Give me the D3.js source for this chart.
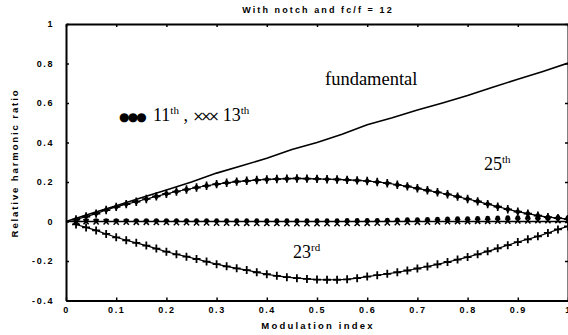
<!DOCTYPE html>
<html>
<head>
<meta charset="utf-8">
<title>Relative harmonic ratio</title>
<script src="https://d3js.org/d3.v7.min.js"></script>
<style>
  html, body { margin: 0; padding: 0; background: #fff; }
  svg { display: block; }
  .tick text { font-family: "Liberation Sans", Arial, sans-serif; font-weight: bold; font-size: 9px; letter-spacing: 1.6px; }
  .lbl { font-family: "Liberation Sans", Arial, sans-serif; font-weight: bold; }
  .ann { font-family: "Liberation Serif", "Times New Roman", serif; }
</style>
</head>
<body>
<svg id="chart" width="568" height="335"></svg>
<script>

// modulation index of the marker points
var modIndex = [0.02,0.04,0.06,0.08,0.10,0.12,0.14,0.16,0.18,0.20,
                0.22,0.24,0.26,0.28,0.30,0.32,0.34,0.36,0.38,0.40,
                0.42,0.44,0.46,0.48,0.50,0.52,0.54,0.56,0.58,0.60,
                0.62,0.64,0.66,0.68,0.70,0.72,0.74,0.76,0.78,0.80,
                0.82,0.84,0.86,0.88,0.90,0.92,0.94,0.96,0.98,1.00]

var h25 = [0.010,0.025,0.040,0.058,0.074,0.088,0.100,0.114,0.127,0.140,
           0.152,0.162,0.172,0.181,0.189,0.196,0.202,0.206,0.210,0.213,
           0.215,0.217,0.218,0.217,0.216,0.214,0.213,0.211,0.208,0.205,
           0.200,0.194,0.186,0.178,0.168,0.158,0.148,0.138,0.126,0.114,
           0.102,0.088,0.075,0.062,0.050,0.040,0.030,0.022,0.017,0.012]

var h23 = [-0.015,-0.030,-0.045,-0.063,-0.080,-0.095,-0.108,-0.122,-0.137,-0.153,
           -0.166,-0.178,-0.190,-0.203,-0.216,-0.227,-0.237,-0.246,-0.257,-0.267,
           -0.275,-0.282,-0.287,-0.291,-0.294,-0.295,-0.295,-0.293,-0.287,-0.279,
           -0.272,-0.265,-0.257,-0.248,-0.238,-0.228,-0.217,-0.205,-0.193,-0.180,
           -0.166,-0.151,-0.136,-0.120,-0.104,-0.090,-0.075,-0.058,-0.040,-0.025]

var h11 = [0.004,0.004,0.004,0.004,0.004,0.004,0.004,0.004,0.004,0.004,
           0.004,0.004,0.004,0.004,0.004,0.004,0.004,0.004,0.004,0.004,
           0.004,0.004,0.004,0.004,0.004,0.004,0.004,0.005,0.005,0.006,
           0.006,0.007,0.008,0.009,0.010,0.011,0.012,0.013,0.014,0.015,
           0.016,0.017,0.018,0.019,0.020,0.021,0.021,0.021,0.021,0.020]

var h13 = [0.000,-0.001,-0.002,-0.002,-0.003,-0.003,-0.004,-0.004,-0.005,-0.005,
           -0.006,-0.006,-0.007,-0.007,-0.008,-0.008,-0.009,-0.009,-0.010,-0.010,
           -0.010,-0.011,-0.011,-0.011,-0.011,-0.011,-0.011,-0.010,-0.010,-0.009,
           -0.008,-0.007,-0.006,-0.005,-0.004,-0.003,-0.002,-0.001,0.000,0.000,
           0.001,0.001,0.002,0.002,0.003,0.003,0.004,0.004,0.005,0.005]

var fundX = [0,0.05,0.10,0.15,0.20,0.25,0.30,0.35,0.40,0.45,0.50,
             0.55,0.60,0.65,0.70,0.75,0.80,0.85,0.90,0.95,1.00]
var fundY = [0,0.040,0.080,0.120,0.160,0.200,0.245,0.282,0.320,0.365,0.400,
             0.442,0.490,0.525,0.565,0.600,0.638,0.680,0.720,0.760,0.802]

var xTicks = [0,0.1,0.2,0.3,0.4,0.5,0.6,0.7,0.8,0.9,1]
var xTickLabels = ["0","0.1","0.2","0.3","0.4","0.5","0.6","0.7","0.8","0.9","1"]
var yTicks = [-0.4,-0.2,0,0.2,0.4,0.6,0.8,1]
var yTickLabels = ["-0.4","-0.2","0","0.2","0.4","0.6","0.8","1"]

var svg = d3.select("#chart")

var x = d3.scaleLinear().domain([0, 1]).range([66, 568])
var y = d3.scaleLinear().domain([-0.4, 1]).range([300.5, 24])

// axes, ticks pointing inward
svg.append("g").attr("transform", "translate(0," + y(-0.4) + ")")
    .call(d3.axisBottom(x).tickValues(xTicks).tickFormat(function(d, i) { return xTickLabels[i] })
        .tickSizeInner(-3).tickSizeOuter(0).tickPadding(6))
svg.append("g").attr("transform", "translate(0," + y(1) + ")")
    .call(d3.axisTop(x).tickValues(xTicks).tickFormat("").tickSizeInner(-3).tickSizeOuter(0))
svg.append("g").attr("transform", "translate(" + x(0) + ",0)")
    .call(d3.axisLeft(y).tickValues(yTicks).tickFormat(function(d, i) { return yTickLabels[i] })
        .tickSizeInner(-3).tickSizeOuter(0).tickPadding(12))
svg.append("g").attr("transform", "translate(" + x(1) + ",0)")
    .call(d3.axisRight(y).tickValues(yTicks).tickFormat("").tickSizeInner(-3).tickSizeOuter(0))

svg.selectAll(".domain").attr("stroke", "#000").attr("stroke-width", 2)
svg.selectAll(".tick line").attr("stroke", "#000").attr("stroke-width", 1.5)
svg.selectAll(".tick text").attr("fill", "#000")

// zero line
svg.append("line")
    .attr("x1", x(0)).attr("x2", x(1))
    .attr("y1", y(0)).attr("y2", y(0))
    .attr("stroke", "#000").attr("stroke-width", 1.6)

// fundamental
var fund = fundX.map(function(d, i) { return [d, fundY[i]] })
svg.append("path")
    .datum(fund)
    .attr("fill", "none").attr("stroke", "#000").attr("stroke-width", 1.6)
    .attr("d", d3.line().x(function(d) { return x(d[0]) }).y(function(d) { return y(d[1]) }))

function pts(vals) {
    return modIndex.map(function(m, i) { return [m, vals[i]] })
}
var line = d3.line().x(function(d) { return x(d[0]) }).y(function(d) { return y(d[1]) })

// 25th and 23rd connecting lines
svg.append("path").datum(pts(h25)).attr("fill", "none").attr("stroke", "#000").attr("stroke-width", 1.2).attr("d", line)
svg.append("path").datum(pts(h23)).attr("fill", "none").attr("stroke", "#000").attr("stroke-width", 1.2).attr("d", line)

// 11th : dots
svg.selectAll(".h11").data(pts(h11)).enter().append("circle")
    .attr("class", "h11")
    .attr("cx", function(d) { return x(d[0]) })
    .attr("cy", function(d) { return y(d[1]) })
    .attr("r", 2.4).attr("fill", "#000")

// 13th : crosses
svg.selectAll(".h13").data(pts(h13)).enter().append("path")
    .attr("class", "h13")
    .attr("transform", function(d) { return "translate(" + x(d[0]) + "," + y(d[1]) + ")" })
    .attr("d", "M-2.6,-2.6L2.6,2.6M-2.6,2.6L2.6,-2.6")
    .attr("stroke", "#000").attr("stroke-width", 1.5)

// 23rd : plus
svg.selectAll(".h23").data(pts(h23)).enter().append("path")
    .attr("class", "h23")
    .attr("transform", function(d) { return "translate(" + x(d[0]) + "," + y(d[1]) + ")" })
    .attr("d", "M-4,0L4,0M0,-4L0,4")
    .attr("stroke", "#000").attr("stroke-width", 1.8)

// 25th : plus with diamond
var g25 = svg.selectAll(".h25").data(pts(h25)).enter().append("g")
    .attr("class", "h25")
    .attr("transform", function(d) { return "translate(" + x(d[0]) + "," + y(d[1]) + ")" })
g25.append("path").attr("d", "M-4.2,0L4.2,0M0,-4.2L0,4.2").attr("stroke", "#000").attr("stroke-width", 1.7)
g25.append("path").attr("d", "M0,-3.5L2.9,0L0,3.5L-2.9,0Z").attr("fill", "#000")

// labels
svg.append("text").attr("class", "lbl")
    .attr("x", 318).attr("y", 13).attr("text-anchor", "middle")
    .style("font-size", "9px").style("letter-spacing", "2.1px")
    .text("With notch and fc/f = 12")
svg.append("text").attr("class", "lbl")
    .attr("x", 318).attr("y", 329).attr("text-anchor", "middle")
    .style("font-size", "9.5px").style("letter-spacing", "2.2px")
    .text("Modulation index")
svg.append("text").attr("class", "lbl")
    .attr("transform", "translate(18,163) rotate(-90)").attr("text-anchor", "middle")
    .style("font-size", "9.5px").style("letter-spacing", "1.9px")
    .text("Relative harmonic ratio")

// annotations
svg.append("text").attr("class", "ann").attr("x", 325).attr("y", 85)
    .style("font-size", "18.5px").text("fundamental")

var t25 = svg.append("text").attr("class", "ann").attr("x", 484).attr("y", 170).style("font-size", "18px")
t25.append("tspan").text("25")
t25.append("tspan").attr("dy", -7).style("font-size", "11px").text("th")

var t23 = svg.append("text").attr("class", "ann").attr("x", 293).attr("y", 258).style("font-size", "18px")
t23.append("tspan").text("23")
t23.append("tspan").attr("dy", -7).style("font-size", "11px").text("rd")

var tl = svg.append("text").attr("class", "ann").attr("x", 119).attr("y", 121).style("font-size", "18px")
tl.append("tspan").style("font-family", "DejaVu Sans").style("font-size", "12px").style("letter-spacing", "-1.8px").text("●●●")
tl.append("tspan").attr("dx", 8).text("11")
tl.append("tspan").attr("dy", -7).style("font-size", "11px").text("th")
tl.append("tspan").attr("dy", 7).text(" ,  ")
tl.append("tspan").style("font-family", "DejaVu Sans").style("font-size", "14px").style("letter-spacing", "-4px").text("×××")
tl.append("tspan").attr("dx", 7).text("13")
tl.append("tspan").attr("dy", -7).style("font-size", "11px").text("th")

</script>
</body>
</html>
